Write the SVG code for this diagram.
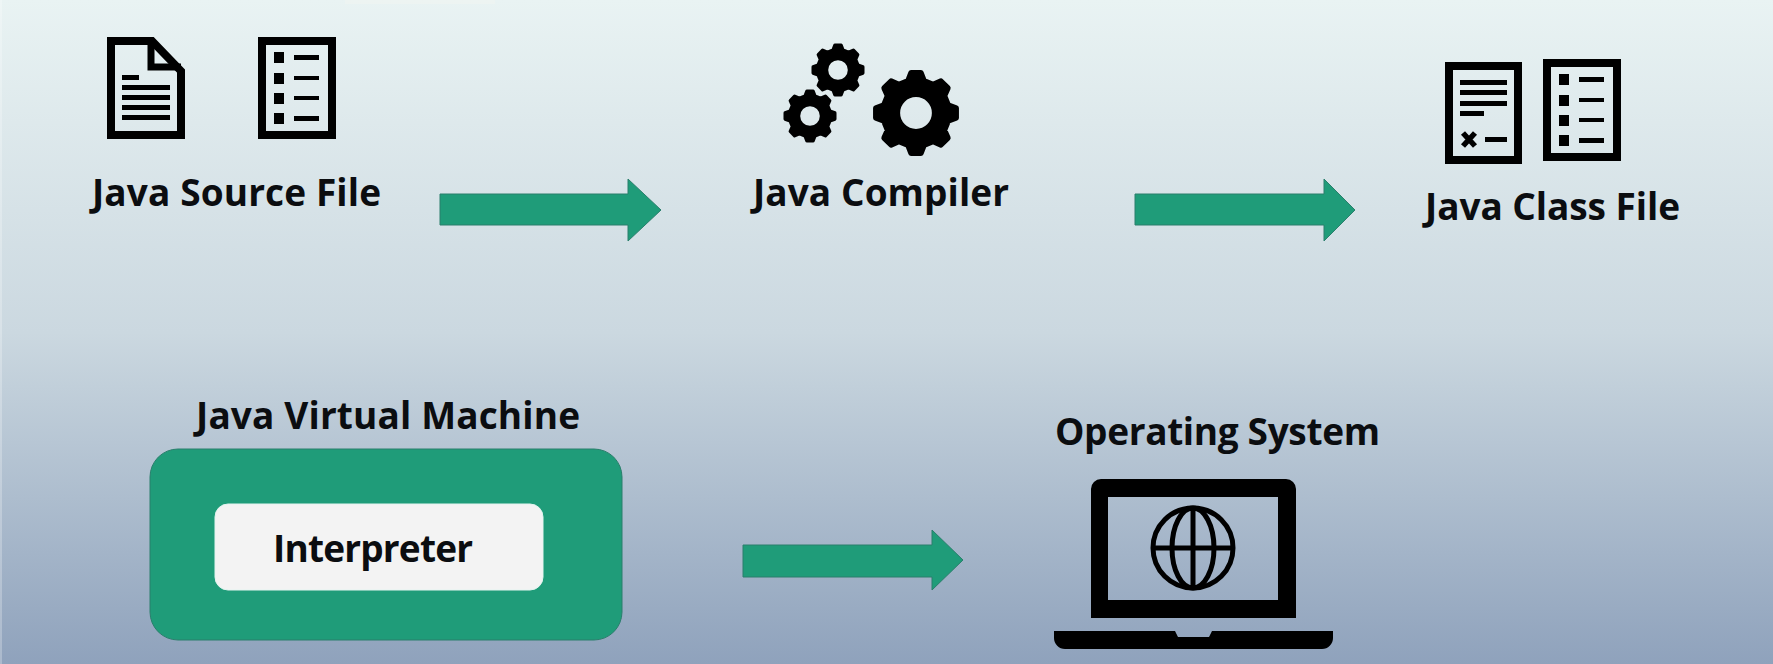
<svg xmlns="http://www.w3.org/2000/svg" width="1773" height="664" viewBox="0 0 1773 664">
<style>
.t{font-family:"Open Sans","Noto Sans","Liberation Sans",sans-serif;font-weight:700;font-size:37px;fill:#0b0d10}
.a{fill:#1f9c79;stroke:#2a7f6c;stroke-width:1}
.k{fill:#000}
.o{fill:none;stroke:#000}
.g{fill:#000;stroke:#000;stroke-width:3.4;stroke-linejoin:round;fill-rule:evenodd}
</style>
<defs>
<linearGradient id="bg" x1="0" y1="0" x2="0" y2="1">
<stop offset="0" stop-color="#e9f3f3"/>
<stop offset="0.5" stop-color="#cbd8e0"/>
<stop offset="1" stop-color="#8fa2bc"/>
</linearGradient>
<g id="list">
<rect class="o" x="4" y="4" width="70" height="94" stroke-width="8"/>
<rect class="k" x="16" y="15" width="10" height="11"/><rect class="k" x="36" y="18" width="25" height="5"/>
<rect class="k" x="16" y="36" width="10" height="11"/><rect class="k" x="36" y="39" width="25" height="4"/>
<rect class="k" x="16" y="56" width="10" height="11"/><rect class="k" x="36" y="59" width="25" height="4"/>
<rect class="k" x="16" y="76" width="10" height="11"/><rect class="k" x="36" y="79" width="25" height="5"/>
</g>
<path id="gear" class="g" d="M-4.96 -19.89L-3.05 -24.81L3.05 -24.81L4.96 -19.89L10.56 -17.57L15.39 -19.7L19.7 -15.39L17.57 -10.56L19.89 -4.96L24.81 -3.05L24.81 3.05L19.89 4.96L17.57 10.56L19.7 15.39L15.39 19.7L10.56 17.57L4.96 19.89L3.05 24.81L-3.05 24.81L-4.96 19.89L-10.56 17.57L-15.39 19.7L-19.7 15.39L-17.57 10.56L-19.89 4.96L-24.81 3.05L-24.81 -3.05L-19.89 -4.96L-17.57 -10.56L-19.7 -15.39L-15.39 -19.7L-10.56 -17.57Z M0 -11.5A11.5 11.5 0 1 0 0 11.5A11.5 11.5 0 1 0 0 -11.5Z"/>
</defs>
<rect id="background" width="1773" height="664" fill="url(#bg)"/>
<rect width="2" height="664" fill="#fff" opacity="0.25"/>
<rect x="345" y="0" width="150" height="4" fill="#f7f5f2" opacity="0.35"/>
<g id="connectors">
<path class="a" d="M440 194H628V179L661 210L628 241V225H440Z"/>
<path class="a" d="M1135 194H1324V179L1355 210L1324 241V225H1135Z"/>
<path class="a" d="M743 545H932V530L963 560L932 590V577H743Z"/>
</g>
<g id="java-source-file">
<path class="o" stroke-width="8" d="M111 41H152L181 71V135H111Z"/>
<path class="o" stroke-width="7" d="M151 41V67H181"/>
<rect class="k" x="122" y="75" width="17" height="5"/>
<rect class="k" x="122" y="85" width="48" height="5"/><rect class="k" x="122" y="95" width="48" height="5"/><rect class="k" x="122" y="105" width="48" height="5"/><rect class="k" x="122" y="115" width="48" height="5"/>
<use href="#list" x="258" y="37"/>
<text class="t" x="92" y="206" textLength="289">Java Source File</text>
</g>
<g id="java-compiler">
<use href="#gear" transform="translate(838 70)"/>
<use href="#gear" transform="translate(810 116)"/>
<use href="#gear" transform="translate(916 113) scale(1.62)"/>
<text class="t" x="753" y="206" textLength="256">Java Compiler</text>
</g>
<g id="java-class-file">
<rect class="o" x="1449" y="66" width="69" height="94" stroke-width="8"/>
<rect class="k" x="1460" y="80" width="47" height="5"/><rect class="k" x="1460" y="90" width="47" height="5"/><rect class="k" x="1460" y="101" width="47" height="5"/><rect class="k" x="1460" y="111" width="24" height="5"/>
<path class="o" stroke-width="5.5" d="M1463 133L1475 146M1475 133L1463 146"/>
<rect class="k" x="1485" y="137" width="22" height="5"/>
<use href="#list" x="1543" y="59"/>
<text class="t" x="1425" y="220" textLength="255">Java Class File</text>
</g>
<g id="java-virtual-machine">
<text class="t" x="196" y="429" textLength="384">Java Virtual Machine</text>
<rect x="150" y="449" width="472" height="191" rx="28" fill="#1f9c79" stroke="#2a7f6c"/>
<rect x="215" y="504" width="328" height="86" rx="13" fill="#f3f3f3" stroke="#e4f4f0"/>
<text class="t" x="273" y="562" textLength="200">Interpreter</text>
</g>
<g id="operating-system">
<text class="t" x="1055" y="445" textLength="325">Operating System</text>
<path class="k" fill-rule="evenodd" d="M1101 479H1286A10 10 0 0 1 1296 489V618H1091V489A10 10 0 0 1 1101 479Z M1108 497V600H1278V497Z"/>
<path class="k" d="M1054 631H1175L1178 637H1209L1212 631H1333V638A11 11 0 0 1 1322 649H1065A11 11 0 0 1 1054 638Z"/>
<g class="o" stroke-width="5">
<circle cx="1193" cy="548" r="40"/>
<ellipse cx="1193" cy="548" rx="21" ry="40"/>
<path d="M1193 508V588M1153 548H1233"/>
</g>
</g>
</svg>
